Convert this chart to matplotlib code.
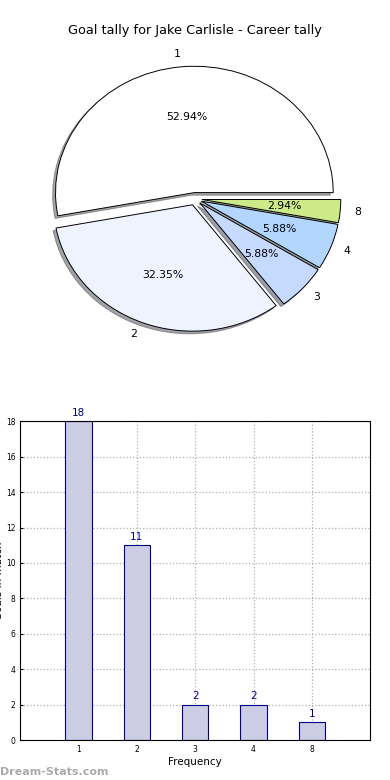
import matplotlib
matplotlib.use("Agg")
import matplotlib.pyplot as plt

# data
goal_counts = ["1", "2", "3", "4", "8"]
frequency = [18, 11, 2, 2, 1]
pie_colors = ["#ffffff", "#eef3ff", "#c6d9ff", "#b3d6ff", "#cceb88"]

fig = plt.figure(figsize=(3.9, 7.8), dpi=100, facecolor="white")

# pie
ax1 = fig.add_axes([0.055, 0.5425, 0.89, 0.405])
wedges, texts, autotexts = ax1.pie(
    frequency, labels=goal_counts, colors=pie_colors, autopct="%1.2f%%",
    explode=[0.05] * len(frequency),
    shadow=dict(ox=-0.015, oy=-0.015, shade=0.7), startangle=0,
    wedgeprops=dict(edgecolor="black", linewidth=0.7),
    textprops=dict(fontsize=7.8))
ax1.set_aspect("auto")
ax1.set_xlim(-1.25, 1.25)
ax1.set_ylim(-1.25, 1.25)
fig.text(0.5, 0.961, "Goal tally for Jake Carlisle - Career tally",
         ha="center", va="center", fontsize=9.3)

# bars
ax2 = fig.add_axes([0.052, 0.051, 0.897, 0.409])
x = range(1, len(frequency) + 1)
bars = ax2.bar(x, frequency, width=0.45, color="#cccce4", edgecolor="#000088",
               linewidth=0.8, zorder=2)
for xi, v in zip(x, frequency):
    ax2.text(xi, v + 0.2, str(v), ha="center", va="bottom", color="#000088",
             fontsize=7.5)
ax2.set_xlim(0, 6)
ax2.set_ylim(0, 18)
ax2.set_xticks(list(x))
ax2.set_xticklabels(goal_counts)
ax2.set_yticks(range(0, 19, 2))
ax2.tick_params(labelsize=5.5, length=2, direction="in")
ax2.grid(True, linestyle=":", color="#b0b0b0", linewidth=0.9, zorder=0)
ax2.set_xlabel("Frequency", fontsize=7.5, labelpad=2)
# the reference cuts this label off at the left edge
ax2.set_ylabel("Goals in match", fontsize=7.5, labelpad=1)

fig.text(0.0, 0.004, "Dream-Stats.com", color="#aaaaaa", fontsize=8,
         fontweight="bold", ha="left", va="bottom")

fig.savefig("out.png", dpi=100, facecolor="white")
